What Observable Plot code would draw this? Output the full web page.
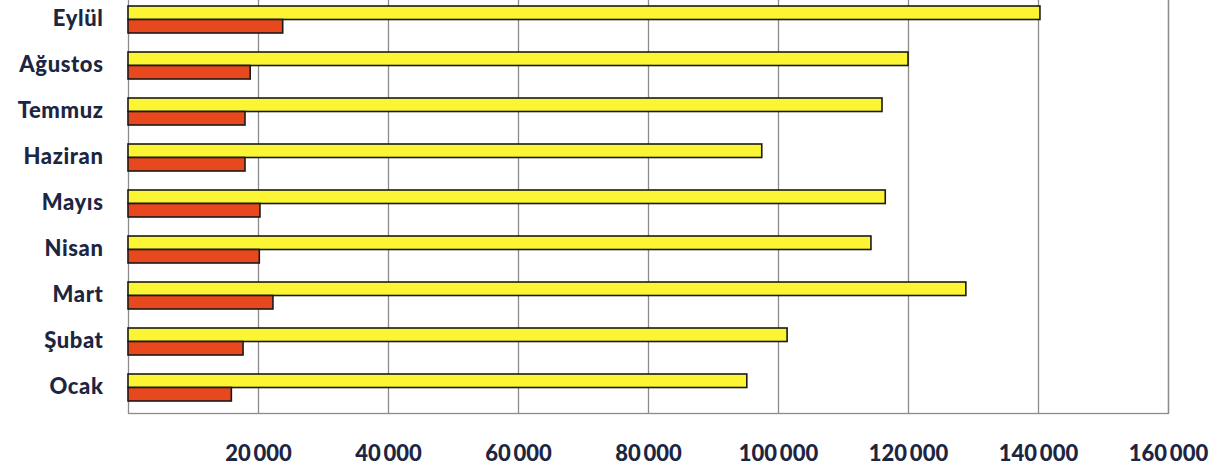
<!DOCTYPE html>
<html>
<head>
<meta charset="utf-8">
<script src="https://cdn.jsdelivr.net/npm/d3@7"></script>
<script src="https://cdn.jsdelivr.net/npm/@observablehq/plot@0.6"></script>
<style>
  html, body { margin: 0; padding: 0; background: #ffffff; overflow: hidden; }
  #chart svg { display: block; margin-top: -6px; }
  #chart svg g[aria-label="y-axis tick label"] text { letter-spacing: 0.6px; }
</style>
</head>
<body>
<div id="chart"></div>
<script>
const months = ["Ocak", "Şubat", "Mart", "Nisan", "Mayıs", "Haziran", "Temmuz", "Ağustos", "Eylül"];
const yellowValues = [95200, 101400, 128900, 114300, 116500, 97500, 116000, 120000, 140300];
const redValues = [15900, 17700, 22300, 20200, 20300, 18000, 18000, 18800, 23800];
const xTicks = [20000, 40000, 60000, 80000, 100000, 120000, 140000, 160000];

const yellowData = months.map((m, i) => ({month: m, value: yellowValues[i]}));
const redData = months.map((m, i) => ({month: m, value: redValues[i]}));

const fmt = d => d3.format(",")(d).replace(/,/g, "\u2009");

const chart = Plot.plot({
  width: 1225,
  height: 474,
  marginLeft: 128,
  marginRight: 57,
  marginTop: 0,
  marginBottom: 55,
  style: {fontFamily: "Lato, sans-serif", color: "#1c2541", background: "transparent"},
  x: {domain: [0, 160000]},
  y: {domain: months.slice().reverse(), paddingInner: 0.42, paddingOuter: 0.21, label: null},
  marks: [
    Plot.gridX(xTicks, {stroke: "#8c8c8c", strokeOpacity: 1, strokeWidth: 1.3}),
    Plot.frame({stroke: "#8c8c8c", strokeWidth: 1.3}),
    Plot.barX(yellowData, {x: "value", y: "month", insetBottom: 13.5, fill: "#fbf534", stroke: "#1a1a1a", strokeWidth: 1.6}),
    Plot.barX(redData, {x: "value", y: "month", insetTop: 13.5, fill: "#e8481e", stroke: "#1a1a1a", strokeWidth: 1.6}),
    Plot.axisY({tickSize: 0, tickPadding: 25, fontSize: 22, fontWeight: 900, dy: -1, label: null}),
    Plot.axisX({ticks: xTicks, tickFormat: fmt, tickSize: 0, tickPadding: 32, fontSize: 22, fontWeight: 900, label: null})
  ]
});
document.getElementById("chart").appendChild(chart);
</script>
</body>
</html>
